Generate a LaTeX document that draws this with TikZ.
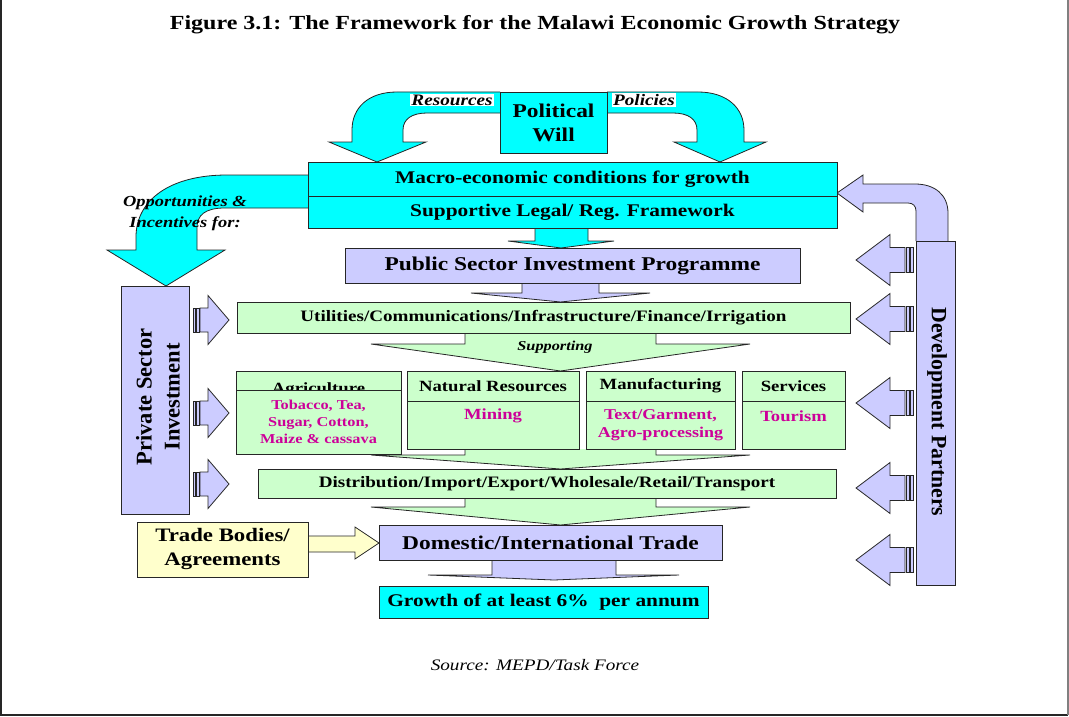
\documentclass[tikz,border=0pt]{standalone}
\usepackage{fontspec}
\setmainfont{Liberation Serif}[FakeStretch=1.2]
\newfontfamily\sideserif{Liberation Serif}
\usepackage{xcolor}
\usepackage{tikz}
\usetikzlibrary{backgrounds}

\definecolor{aqua}{RGB}{0,255,255}
\definecolor{lilac}{RGB}{204,204,255}
\definecolor{mint}{RGB}{204,255,204}
\definecolor{cream}{RGB}{255,255,204}
\definecolor{plum}{RGB}{204,0,153}

\begin{document}
\begin{tikzpicture}[x=1pt, y=-1pt,
box/.style={draw=black!85, line width=0.8pt, inner sep=0pt, outer sep=0pt, align=center},
cyanbox/.style={box, fill=aqua},
lilacbox/.style={box, fill=lilac},
mintbox/.style={box, fill=mint},
creambox/.style={box, fill=cream},
blockarrow/.style={draw=black!85, line width=0.8pt, line join=miter},
bigtext/.style={font=\bfseries\fontsize{19.5}{24}\selectfont},
midtext/.style={font=\bfseries\fontsize{17.8}{21}\selectfont},
smalltext/.style={font=\bfseries\fontsize{15.9}{19}\selectfont},
secttext/.style={font=\bfseries\fontsize{15.6}{18}\selectfont},
croptext/.style={text=plum, align=center, font=\bfseries\fontsize{15}{18}\selectfont},
flowlabel/.style={align=center, font=\bfseries\itshape\fontsize{16}{21}\selectfont},
sidetext/.style={align=center, font=\sideserif\bfseries\fontsize{22.5}{28}\selectfont},
rsidearrow/.pic={
  \draw[blockarrow, fill=lilac] (0,-12) rectangle (2.5,12);
  \draw[blockarrow, fill=lilac] (3.5,-12) rectangle (6,12);
  \draw[blockarrow, fill=lilac] (7,-12) -- (15,-12) -- (15,-24.5) -- (36,0)
    -- (15,24.5) -- (15,12) -- (7,12) -- cycle;
},
lsidearrow/.pic={
  \draw[blockarrow, fill=lilac] (0,-12.5) rectangle (-3,12.5);
  \draw[blockarrow, fill=lilac] (-4,-12.5) rectangle (-7,12.5);
  \draw[blockarrow, fill=lilac] (-8,-12.5) -- (-23,-12.5) -- (-23,-25.5) -- (-57,0)
    -- (-23,25.5) -- (-23,12.5) -- (-8,12.5) -- cycle;
}]
\useasboundingbox (0,0) rectangle (1069,717);

% page frame
\draw[line width=1.5pt, black!85] (1,0) -- (1,715) -- (1068,715);
\draw[line width=1.2pt, black!50] (1068,715) -- (1068,0);

\node[font=\bfseries\fontsize{20}{24}\selectfont] (title) at (535,25)
  {Figure 3.1: The Framework for the Malawi Economic Growth Strategy};
\node[font=\itshape\fontsize{16}{20}\selectfont] (source) at (535,665) {Source: MEPD/Task Force};

% top of the framework
\node[cyanbox, bigtext, minimum width=107, minimum height=61] (polwill) at (553.5,122.5) {Political\\Will};
\node[cyanbox, midtext, minimum width=529, minimum height=34] (macro) at (572.5,179) {Macro-economic conditions for growth};
\node[cyanbox, midtext, minimum width=529, minimum height=32] (legal) at (572.5,212) {Supportive Legal/ Reg. Framework};
\node[lilacbox, bigtext, minimum width=455, minimum height=35] (psip) at (572.5,265.5) {Public Sector Investment Programme};
\node[mintbox, smalltext, minimum width=613, minimum height=31] (util) at (543.5,317.5)
  {Utilities/Communications/Infrastructure/Finance/Irrigation};

% sectors
\node[mintbox, minimum width=165, minimum height=30] (agri) at (318.5,386) {};
\node[secttext, anchor=base] (agri-title) at (318.5,393) {Agriculture};
\node[mintbox, croptext, font=\bfseries\fontsize{13.6}{17}\selectfont, minimum width=165, minimum height=64]
  (agri-crops) at (318.5,422) {Tobacco, Tea,\\Sugar, Cotton,\\Maize \& cassava};
\node[mintbox, secttext, minimum width=172, minimum height=30] (natres) at (493,386) {Natural Resources};
\node[mintbox, minimum width=172, minimum height=48] (natres-sub) at (493,425) {};
\node[croptext, font=\bfseries\fontsize{15.5}{18}\selectfont] (mining) at (493,416) {Mining};
\node[mintbox, secttext, minimum width=149, minimum height=30] (manuf) at (660.5,386) {Manufacturing};
\node[mintbox, croptext, minimum width=149, minimum height=48] (manuf-sub) at (660.5,425)
  {Text/Garment,\\Agro-processing};
\node[mintbox, secttext, minimum width=103, minimum height=30] (services) at (793.5,386) {Services};
\node[mintbox, minimum width=103, minimum height=48] (services-sub) at (793.5,425) {};
\node[croptext, font=\bfseries\fontsize{15.5}{18}\selectfont] (tourism) at (793.5,416) {Tourism};

% bottom of the framework
\node[mintbox, smalltext, minimum width=578, minimum height=29] (dist) at (547,483.5)
  {Distribution/Import/Export/Wholesale/Retail/Transport};
\node[lilacbox, bigtext, minimum width=343, minimum height=35] (trade) at (550.5,542.5) {Domestic/International Trade};
\node[cyanbox, midtext, minimum width=329, minimum height=32] (growth) at (543.5,602) {Growth of at least 6\%\ \ per annum};
\node[creambox, bigtext, font=\bfseries\fontsize{19}{24}\selectfont, minimum width=171, minimum height=55]
  (tb) at (222.5,549.5) {Trade Bodies/\\Agreements};

% side columns
\node[lilacbox, minimum width=68, minimum height=228] (private) at (155,400) {};
\node[sidetext, rotate=90] (private-text) at (158,397) {Private Sector\\Investment};
\node[lilacbox, minimum width=39, minimum height=344] (devpart) at (935.5,413) {};
\node[sidetext, font=\sideserif\bfseries\fontsize{21.8}{26}\selectfont, rotate=-90] (devpart-text) at (937,412)
  {Development Partners};

\begin{scope}[on background layer]
% curved arrows from Political Will
\draw[blockarrow, fill=aqua] (polwill.west |- 0,92) -- (397,92) .. controls (368,92) and (352,108) .. (352,130)
  -- (352,142) -- (329,142) -- (377,0 |- macro.north) -- (426,142) -- (403,142) -- (403,130)
  .. controls (403,119) and (412,113) .. (427,113) -- (polwill.west |- 0,113);
\draw[blockarrow, fill=aqua] (polwill.east |- 0,92) -- (698,92) .. controls (727,92) and (744,108) .. (744,130)
  -- (744,142) -- (766,142) -- (720,0 |- macro.north) -- (674,142) -- (697,142) -- (697,130)
  .. controls (697,119) and (688,113) .. (673,113) -- (polwill.east |- 0,113);
% opportunities to the private sector
\draw[blockarrow, fill=aqua] (macro.west |- 0,175) -- (227,175) .. controls (170,175) and (136,200) .. (136,237)
  -- (136,250) -- (107,250) -- (166,0 |- private.north) -- (225,250) -- (197,250) -- (197,228)
  .. controls (197,215) and (205,208) .. (225,208) -- (legal.west |- 0,208);
% development partners back to the macro conditions
\draw[blockarrow, fill=lilac] (948,0 |- devpart.north) -- (948,213) .. controls (948,195) and (935,184) .. (915,184)
  -- (863,184) -- (863,175) -- (macro.east |- 0,193) -- (863,212) -- (863,203) -- (908,203)
  .. controls (913,203) and (916,206) .. (916,211) -- (916,0 |- devpart.north);

% downward flow
\draw[blockarrow, fill=aqua] (535,0 |- legal.south) -- (535,241) -- (508,241) -- (561,0 |- psip.north)
  -- (614,241) -- (588,241) -- (588,0 |- legal.south);
\draw[blockarrow, fill=lilac] (522,0 |- psip.south) -- (522,293) -- (471,293) -- (560.5,0 |- util.north)
  -- (650,293) -- (599,293) -- (599,0 |- psip.south);
\draw[blockarrow, fill=mint] (465,0 |- util.south) -- (465,344) -- (371,344) -- (560.5,0 |- natres.north)
  -- (750,344) -- (656,344) -- (656,0 |- util.south);
\draw[blockarrow, fill=mint] (465,0 |- natres-sub.south) -- (465,455) -- (371,455) -- (560.5,0 |- dist.north)
  -- (750,455) -- (656,455) -- (656,0 |- natres-sub.south);
\draw[blockarrow, fill=mint] (465,0 |- dist.south) -- (465,507) -- (371,507) -- (560.5,0 |- trade.north)
  -- (750,507) -- (656,507) -- (656,0 |- dist.south);
\draw[blockarrow, fill=lilac] (492,0 |- trade.south) -- (492,575) -- (428,575) -- (554,580)
  -- (679,575) -- (616,575) -- (616,0 |- trade.south);
\draw[blockarrow, fill=cream] (tb.east |- 0,536) -- (355,536) -- (355,527) -- (trade.west |- 0,543)
  -- (355,559) -- (355,552) -- (tb.east |- 0,552);
\end{scope}

% striped side arrows
\pic at (193,320) {rsidearrow};
\pic at (193,413) {rsidearrow};
\pic at (193,484) {rsidearrow};
\pic at (913,260) {lsidearrow};
\pic at (913,319) {lsidearrow};
\pic at (913,403) {lsidearrow};
\pic at (913,488) {lsidearrow};
\pic at (913,560) {lsidearrow};

% arrow labels
\node[flowlabel, fill=white, inner sep=1pt] (resources) at (452,100) {Resources};
\node[flowlabel, fill=white, inner sep=1pt] (policies) at (644,100) {Policies};
\node[flowlabel, font=\bfseries\itshape\fontsize{15.4}{21}\selectfont] (opportunities) at (185,213)
  {Opportunities \&\\Incentives for:};
\node[flowlabel, font=\bfseries\itshape\fontsize{13.6}{16}\selectfont] (supporting) at (555,347) {Supporting};
\end{tikzpicture}
\end{document}
